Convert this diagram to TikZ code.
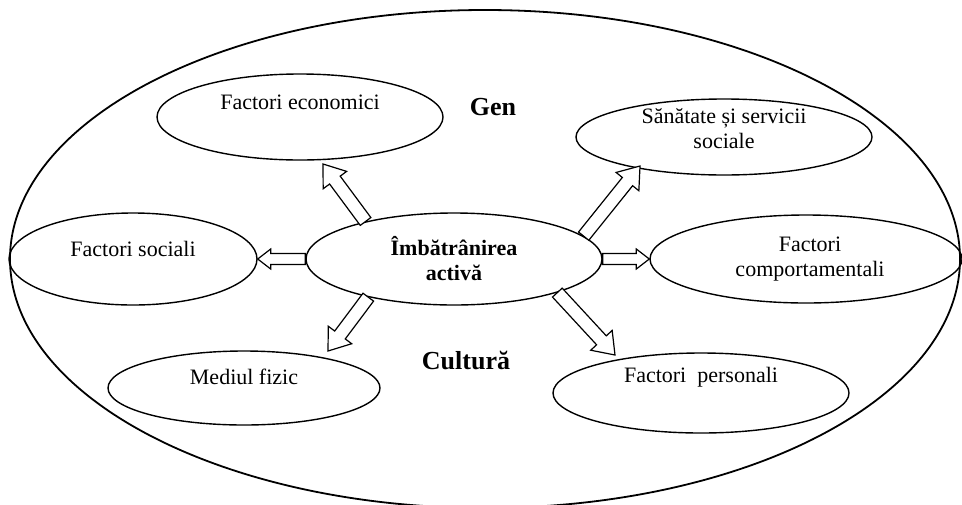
\documentclass[tikz,border=0pt]{standalone}
\usepackage{fontspec}
\setmainfont{Liberation Serif}
\usetikzlibrary{shapes.geometric,calc}

\tikzset{
  oval/.style={draw, ellipse, line width=0.7pt, inner sep=0pt},
  txt/.style={font=\fontsize{11}{12.5}\selectfont, align=center, inner sep=0pt},
  boldtxt/.style={font=\fontsize{11}{12.5}\selectfont\bfseries, align=center},
  hdr/.style={font=\fontsize{13}{15}\selectfont\bfseries},
  arrowline/.style={draw, line width=0.6pt, line join=miter, fill=white},
}

% Hollow block arrow from #1 to #2: shaft half-width #3, head half-width #4, head length #5
\newcommand\hollowarrow[5]{%
  \coordinate (ha-n) at ($(#2)!#5!(#1)$);
  \path[arrowline]
    ($(#1)!#3!90:(#2)$) -- ($(ha-n)!#3!90:(#2)$) -- ($(ha-n)!#4!90:(#2)$)
    -- (#2)
    -- ($(ha-n)!#4!-90:(#2)$) -- ($(ha-n)!#3!-90:(#2)$) -- ($(#1)!#3!-90:(#2)$)
    -- cycle;
}

\begin{document}
\begin{tikzpicture}[x=0.5pt, y=-0.5pt]
  \useasboundingbox (0,0) rectangle (962,504);

  % surrounding context
  \node[draw, ellipse, line width=0.9pt, inner sep=0pt,
        minimum width=475pt, minimum height=249pt] (outer) at (485,259) {};

  % factors
  \node[oval, minimum width=148pt, minimum height=46pt, boldtxt] (core) at (454,259)
       {Îmbătrânirea\\activă};
  \node[oval, minimum width=143pt, minimum height=43pt,
        label={[txt, yshift=7.5pt]center:Factori economici}] (econ) at (300,117) {};
  \node[oval, minimum width=148pt, minimum height=38pt,
        label={[txt, yshift=4.25pt]center:{Sănătate și servicii\\sociale}}] (sanat) at (724,137) {};
  \node[oval, minimum width=124pt, minimum height=46pt,
        label={[txt, yshift=5pt]center:Factori sociali}] (social) at (133,259) {};
  \node[oval, minimum width=156pt, minimum height=44pt,
        label={[txt, xshift=2pt]center:{Factori\\comportamentali}}] (comport) at (806,259) {};
  \node[oval, minimum width=136pt, minimum height=37pt,
        label={[txt, yshift=5.5pt]center:Mediul fizic}] (mediu) at (244,388) {};
  \node[oval, minimum width=148pt, minimum height=40pt,
        label={[txt, yshift=8pt]center:Factori\ \ personali}] (pers) at (701,393) {};

  % headings
  \node[hdr] (gen) at (493,107) {Gen};
  \node[hdr] (cult) at (466,360) {Cultură};

  % arrow tips
  \coordinate (t1) at ($(econ.center)+(23,47)$);
  \coordinate (t2) at ($(sanat.center)+(-84,29)$);
  \coordinate (t5) at ($(mediu.center)+(84,-37)$);
  \coordinate (t6) at ($(pers.center)+(-86,-38)$);

  % arrows
  \hollowarrow{core.157}{t1}{3.3pt}{7.3pt}{10pt}
  \hollowarrow{core.10}{t2}{3.3pt}{7.3pt}{10pt}
  \hollowarrow{core.west}{social.east}{2.75pt}{5pt}{6.5pt}
  \hollowarrow{core.east}{comport.west}{2.75pt}{5pt}{6.5pt}
  \hollowarrow{core.204}{t5}{3.3pt}{7.3pt}{10pt}
  \hollowarrow{core.342}{t6}{3.3pt}{7.3pt}{10pt}
\end{tikzpicture}
\end{document}
